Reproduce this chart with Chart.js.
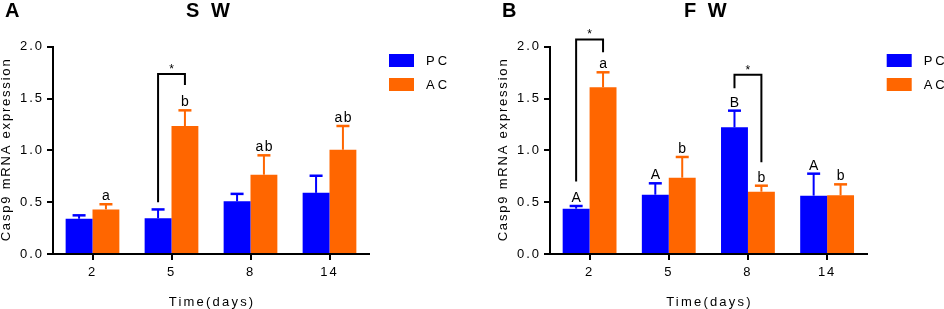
<!DOCTYPE html>
<html>
<head>
<meta charset="utf-8">
<script src="https://cdn.jsdelivr.net/npm/chart.js@4.4.1/dist/chart.umd.min.js"></script>
<style>
    html, body { margin: 0; padding: 0; background: #fff; }
    #wrap { position: relative; width: 944px; height: 309px; }
    .panel { position: absolute; top: 0; width: 472px; height: 309px; }
</style>
</head>
<body>
<div id="wrap">
    <div class="panel" style="left:0"><canvas id="chartA" width="472" height="309"></canvas></div>
    <div class="panel" style="left:472px"><canvas id="chartB" width="472" height="309"></canvas></div>
</div>
<script>
'use strict';

// categories and tick values
const days = ['2', '5', '8', '14'];
const yTicks = [0, 0.5, 1.0, 1.5, 2.0];

// SW panel
const swPC = [0.34, 0.345, 0.508, 0.59];
const swPCErr = [0.033, 0.085, 0.072, 0.165];
const swAC = [0.43, 1.235, 0.765, 1.006];
const swACErr = [0.05, 0.151, 0.187, 0.229];
const swPCMarks = ['', '', '', ''];
const swACMarks = ['a', 'b', 'ab', 'ab'];
// bracket: category index, top value, left leg end, right leg end
const swBrackets = [[1, 1.737, 0.50, 1.63]];

// FW panel
const fwPC = [0.437, 0.572, 1.222, 0.563];
const fwPCErr = [0.026, 0.11, 0.161, 0.212];
const fwAC = [1.608, 0.736, 0.601, 0.566];
const fwACErr = [0.145, 0.2, 0.058, 0.106];
const fwPCMarks = ['A', 'A', 'B', 'A'];
const fwACMarks = ['a', 'b', 'b', 'b'];
const fwBrackets = [[0, 2.07, 0.70, 1.946], [2, 1.73, 1.60, 0.885]];

const BLUE = '#0000ff';
const ORANGE = '#ff6600';
const FONT = "'Liberation Sans', Arial, sans-serif";

function text(ctx, str, x, y, font, spacing, align, baseline) {
    ctx.save();
    ctx.font = font;
    ctx.letterSpacing = spacing + 'px';
    ctx.fillStyle = '#000';
    ctx.textAlign = align || 'center';
    ctx.textBaseline = baseline || 'alphabetic';
    // letterSpacing adds space after the last glyph too; compensate when centered
    let dx = ctx.textAlign === 'center' ? spacing / 2 : (ctx.textAlign === 'right' ? spacing : 0);
    ctx.fillText(str, x + dx, y);
    ctx.restore();
}

const decorations = {
    id: 'decorations',
    beforeDraw(chart) {
        chart.ctx.letterSpacing = '2px';
    },
    afterDatasetsDraw(chart, args, opts) {
        const ctx = chart.ctx, y = chart.scales.y;
        ctx.save();
        ctx.letterSpacing = '0px';
        chart.data.datasets.forEach((ds, i) => {
            const meta = chart.getDatasetMeta(i);
            meta.data.forEach((bar, j) => {
                const top = y.getPixelForValue(ds.data[j] + ds.errors[j]);
                ctx.strokeStyle = ds.backgroundColor;
                ctx.lineWidth = 2;
                ctx.beginPath();
                ctx.moveTo(bar.x, bar.y);
                ctx.lineTo(bar.x, top);
                ctx.stroke();
                ctx.lineWidth = 2.5;
                ctx.beginPath();
                ctx.moveTo(bar.x - 6.5, top);
                ctx.lineTo(bar.x + 6.5, top);
                ctx.stroke();
                if (ds.marks[j]) {
                    text(ctx, ds.marks[j], bar.x, top - 4, '14px ' + FONT, 1.5);
                }
            });
        });
        const m0 = chart.getDatasetMeta(0), m1 = chart.getDatasetMeta(1);
        opts.brackets.forEach(b => {
            const x0 = m0.data[b[0]].x, x1 = m1.data[b[0]].x;
            const yt = y.getPixelForValue(b[1]);
            ctx.strokeStyle = '#000';
            ctx.lineWidth = 2;
            ctx.beginPath();
            ctx.moveTo(x0, y.getPixelForValue(b[2]));
            ctx.lineTo(x0, yt);
            ctx.lineTo(x1, yt);
            ctx.lineTo(x1, y.getPixelForValue(b[3]));
            ctx.stroke();
            text(ctx, '*', (x0 + x1) / 2, yt - 1, '12px ' + FONT, 0);
        });
        ctx.restore();
    },
    afterDraw(chart, args, opts) {
        const ctx = chart.ctx, area = chart.chartArea;
        const mid = (area.left + area.right) / 2;
        text(ctx, opts.letter, area.left - 48, 17, 'bold 20px ' + FONT, 0, 'left');
        text(ctx, opts.title, mid - 3, 17, 'bold 20px ' + FONT, 3);
        text(ctx, 'Time(days)', mid, 302, '13px ' + FONT, 2.2, 'center', 'middle');
        ctx.save();
        ctx.translate(area.left - 46.5, (area.top + area.bottom) / 2);
        ctx.rotate(-Math.PI / 2);
        text(ctx, 'Casp9 mRNA expression', 0, 0, '13px ' + FONT, 1.8, 'center', 'middle');
        ctx.restore();
        // legend
        chart.data.datasets.forEach((ds, i) => {
            const ly = 54 + i * 24;
            ctx.fillStyle = ds.backgroundColor;
            ctx.fillRect(area.right + 20, ly, 25, 13);
            text(ctx, ds.label, area.right + 57, ly + 7, '13px ' + FONT, 3, 'left', 'middle');
        });
    }
};

function makePanel(canvasId, settings) {
    const axisLeft = settings.axisLeft, padRight = settings.padRight;
    return new Chart(document.getElementById(canvasId), {
        type: 'bar',
        data: {
            labels: days,
            datasets: [
                { label: 'PC', data: settings.pc, errors: settings.pcErr, marks: settings.pcMarks,
                  backgroundColor: BLUE, borderWidth: 0 },
                { label: 'AC', data: settings.ac, errors: settings.acErr, marks: settings.acMarks,
                  backgroundColor: ORANGE, borderWidth: 0 }
            ]
        },
        options: {
            responsive: false,
            animation: false,
            devicePixelRatio: 1,
            categoryPercentage: 0.68,
            barPercentage: 1.0,
            layout: { padding: { top: 46.7, right: padRight, left: 0, bottom: 0 } },
            plugins: {
                legend: { display: false },
                tooltip: { enabled: false },
                decorations: { letter: settings.letter, title: settings.title, brackets: settings.brackets }
            },
            scales: {
                x: {
                    grid: { display: true, drawOnChartArea: false, drawTicks: true, tickLength: 6,
                            color: '#000', lineWidth: 2, offset: false },
                    border: { display: true, color: '#000', width: 2 },
                    ticks: { color: '#000', font: { family: FONT, size: 13 }, padding: 5 },
                    afterFit: s => { s.height = 55; }
                },
                y: {
                    min: 0,
                    max: 2,
                    afterBuildTicks: s => { s.ticks = yTicks.map(v => ({ value: v })); },
                    grid: { display: true, drawOnChartArea: false, drawTicks: true, tickLength: 6,
                            color: '#000', lineWidth: 2 },
                    border: { display: true, color: '#000', width: 2 },
                    ticks: { color: '#000', font: { family: FONT, size: 13 }, padding: 3,
                             callback: v => Number(v).toFixed(1) },
                    afterFit: s => { s.width = axisLeft; }
                }
            }
        },
        plugins: [decorations]
    });
}

makePanel('chartA', {
    letter: 'A', title: 'S W', axisLeft: 53, padRight: 103,
    pc: swPC, pcErr: swPCErr, pcMarks: swPCMarks,
    ac: swAC, acErr: swACErr, acMarks: swACMarks,
    brackets: swBrackets
});

makePanel('chartB', {
    letter: 'B', title: 'F W', axisLeft: 78, padRight: 77.3,
    pc: fwPC, pcErr: fwPCErr, pcMarks: fwPCMarks,
    ac: fwAC, acErr: fwACErr, acMarks: fwACMarks,
    brackets: fwBrackets
});
</script>
</body>
</html>
